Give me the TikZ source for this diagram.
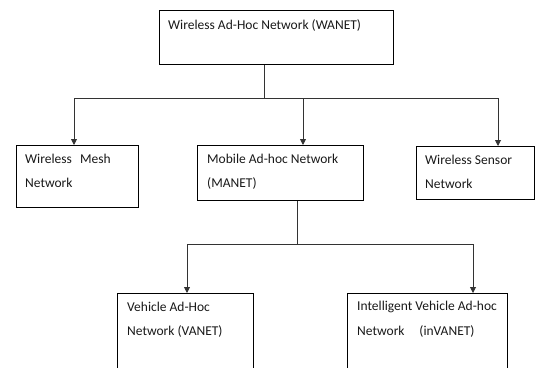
\documentclass[tikz,border=0pt]{standalone}
\usepackage{fontspec}
\setmainfont{Carlito}
\usetikzlibrary{arrows.meta,calc}
\begin{document}
\begin{tikzpicture}[x=1pt,y=-1pt,
  box/.style={draw=black,line width=0.9pt,rectangle,inner sep=0pt,anchor=north west},
  lbl/.style={anchor=west,inner sep=0pt,text=black!90,font=\fontsize{13.5}{16}\selectfont},
  conn/.style={draw=black!80,line width=0.9pt},
  arr/.style={conn,-{Triangle[length=6pt,width=6pt]}}]
\useasboundingbox (0,0) rectangle (535,367);
\clip (0,0) rectangle (535,367);
% boxes
\node[box,minimum width=234pt,minimum height=54pt] (wanet) at (159,10) {};
\node[box,minimum width=122pt,minimum height=62pt] (mesh) at (16,145) {};
\node[box,minimum width=166pt,minimum height=55pt] (manet) at (197,145) {};
\node[box,minimum width=118pt,minimum height=53pt] (sensor) at (416,146) {};
\node[box,minimum width=136pt,minimum height=90pt] (vanet) at (117,293) {};
\node[box,minimum width=160pt,minimum height=90pt] (invanet) at (347,293) {};
% texts
\node[lbl] (t1) at (168,25) {Wireless Ad-Hoc Network (WANET)};
\node[lbl] (t2a) at (25,159) {Wireless\hspace{0.6em}Mesh};
\node[lbl] (t2b) at (25,183) {Network};
\node[lbl] (t3a) at (207,159) {Mobile Ad-hoc Network};
\node[lbl] (t3b) at (207,183) {(MANET)};
\node[lbl] (t4a) at (425,160) {Wireless Sensor};
\node[lbl] (t4b) at (425,184) {Network};
\node[lbl] (t5a) at (127,307) {Vehicle Ad-Hoc};
\node[lbl] (t5b) at (127,331) {Network (VANET)};
\node[lbl] (t6a) at (357,307) {Intelligent Vehicle Ad-hoc};
\node[lbl] (t6b) at (357,331) {Network\hspace{1.1em}(inVANET)};
% connectors
\coordinate (j1) at (264,98);
\coordinate (l1) at (74,98);
\coordinate (r1) at (498,98);
\coordinate (m1) at (303,98);
\draw[conn] (wanet.south -| j1) -- (j1);
\draw[conn] (l1) -- (r1);
\draw[arr] (l1) -- (l1 |- mesh.north);
\draw[arr] (m1) -- (m1 |- manet.north);
\draw[arr] (r1) -- (r1 |- sensor.north);
\coordinate (j2) at (297,244);
\coordinate (l2) at (187,244);
\coordinate (r2) at (473,244);
\draw[conn] (manet.south -| j2) -- (j2);
\draw[conn] (l2) -- (r2);
\draw[arr] (l2) -- (l2 |- vanet.north);
\draw[arr] (r2) -- (r2 |- invanet.north);
\end{tikzpicture}
\end{document}
